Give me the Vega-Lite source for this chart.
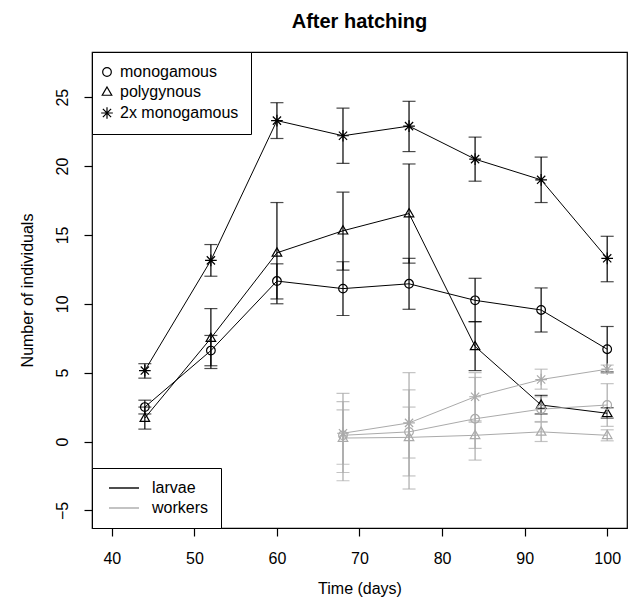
{
  "$schema": "https://vega.github.io/schema/vega-lite/v6.json",
  "width": 535,
  "height": 476,
  "autosize": {"type": "none"},
  "padding": {"left": 92, "top": 52, "right": 8, "bottom": 73},
  "background": "white",
  "title": {"text": "After hatching", "font": "Liberation Sans", "fontSize": 20, "fontWeight": "bold", "color": "black", "anchor": "middle", "baseline": "alphabetic", "offset": 4},
  "config": {
    "view": {"stroke": "black", "strokeWidth": 1.2},
    "axis": {"domain": false, "grid": false, "ticks": true, "tickColor": "black", "tickSize": 8, "tickWidth": 1.2, "labelFont": "Liberation Sans", "labelFontSize": 16, "labelColor": "black", "titleFont": "Liberation Sans", "titleFontSize": 16, "titleFontWeight": "normal", "titleColor": "black"},
    "legend": {"labelFont": "Liberation Sans", "labelFontSize": 16, "labelColor": "black", "symbolOpacity": 1}
  },
  "data": {"values": [
    {"t": 44, "stage": "larvae", "type": "monogamous", "m": 2.5, "lo": 2.0, "hi": 3.0},
    {"t": 52, "stage": "larvae", "type": "monogamous", "m": 6.6, "lo": 5.5, "hi": 7.7},
    {"t": 60, "stage": "larvae", "type": "monogamous", "m": 11.65, "lo": 10.35, "hi": 12.9},
    {"t": 68, "stage": "larvae", "type": "monogamous", "m": 11.1, "lo": 9.15, "hi": 13.05},
    {"t": 76, "stage": "larvae", "type": "monogamous", "m": 11.45, "lo": 9.6, "hi": 13.3},
    {"t": 84, "stage": "larvae", "type": "monogamous", "m": 10.25, "lo": 8.7, "hi": 11.85},
    {"t": 92, "stage": "larvae", "type": "monogamous", "m": 9.55, "lo": 7.95, "hi": 11.15},
    {"t": 100, "stage": "larvae", "type": "monogamous", "m": 6.7, "lo": 5.05, "hi": 8.35},
    {"t": 44, "stage": "larvae", "type": "polygynous", "m": 1.7, "lo": 0.9, "hi": 2.5},
    {"t": 52, "stage": "larvae", "type": "polygynous", "m": 7.5, "lo": 5.3, "hi": 9.65},
    {"t": 60, "stage": "larvae", "type": "polygynous", "m": 13.7, "lo": 10.0, "hi": 17.35},
    {"t": 68, "stage": "larvae", "type": "polygynous", "m": 15.3, "lo": 12.45, "hi": 18.1},
    {"t": 76, "stage": "larvae", "type": "polygynous", "m": 16.55, "lo": 12.95, "hi": 20.15},
    {"t": 84, "stage": "larvae", "type": "polygynous", "m": 6.9, "lo": 5.15, "hi": 8.7},
    {"t": 92, "stage": "larvae", "type": "polygynous", "m": 2.65, "lo": 2.0, "hi": 3.35},
    {"t": 100, "stage": "larvae", "type": "polygynous", "m": 2.05, "lo": 1.7, "hi": 2.45},
    {"t": 44, "stage": "larvae", "type": "2x monogamous", "m": 5.15, "lo": 4.6, "hi": 5.65},
    {"t": 52, "stage": "larvae", "type": "2x monogamous", "m": 13.15, "lo": 12.0, "hi": 14.3},
    {"t": 60, "stage": "larvae", "type": "2x monogamous", "m": 23.3, "lo": 22.0, "hi": 24.6},
    {"t": 68, "stage": "larvae", "type": "2x monogamous", "m": 22.2, "lo": 20.2, "hi": 24.2},
    {"t": 76, "stage": "larvae", "type": "2x monogamous", "m": 22.9, "lo": 21.05, "hi": 24.7},
    {"t": 84, "stage": "larvae", "type": "2x monogamous", "m": 20.5, "lo": 18.9, "hi": 22.1},
    {"t": 92, "stage": "larvae", "type": "2x monogamous", "m": 19.0, "lo": 17.35, "hi": 20.65},
    {"t": 100, "stage": "larvae", "type": "2x monogamous", "m": 13.3, "lo": 11.6, "hi": 14.9},
    {"t": 68, "stage": "workers", "type": "monogamous", "m": 0.45, "lo": -2.25, "hi": 2.9},
    {"t": 76, "stage": "workers", "type": "monogamous", "m": 0.7, "lo": -1.2, "hi": 2.5},
    {"t": 84, "stage": "workers", "type": "monogamous", "m": 1.65, "lo": -1.35, "hi": 4.65},
    {"t": 92, "stage": "workers", "type": "monogamous", "m": 2.35, "lo": 1.45, "hi": 3.25},
    {"t": 100, "stage": "workers", "type": "monogamous", "m": 2.65, "lo": 1.1, "hi": 4.2},
    {"t": 68, "stage": "workers", "type": "polygynous", "m": 0.25, "lo": -1.65, "hi": 2.3},
    {"t": 76, "stage": "workers", "type": "polygynous", "m": 0.3, "lo": -3.45, "hi": 3.75},
    {"t": 84, "stage": "workers", "type": "polygynous", "m": 0.45, "lo": -0.5, "hi": 1.4},
    {"t": 92, "stage": "workers", "type": "polygynous", "m": 0.7, "lo": 0.0, "hi": 1.4},
    {"t": 100, "stage": "workers", "type": "polygynous", "m": 0.45, "lo": 0.05, "hi": 0.85},
    {"t": 68, "stage": "workers", "type": "2x monogamous", "m": 0.6, "lo": -2.85, "hi": 3.5},
    {"t": 76, "stage": "workers", "type": "2x monogamous", "m": 1.35, "lo": -2.5, "hi": 5.0},
    {"t": 84, "stage": "workers", "type": "2x monogamous", "m": 3.25, "lo": 1.5, "hi": 5.0},
    {"t": 92, "stage": "workers", "type": "2x monogamous", "m": 4.5, "lo": 3.8, "hi": 5.25},
    {"t": 100, "stage": "workers", "type": "2x monogamous", "m": 5.25, "lo": 4.95, "hi": 5.55}
  ]},
  "encoding": {
    "x": {"field": "t", "type": "quantitative", "scale": {"domain": [37.6, 102.4], "nice": false, "zero": false},
      "axis": {"values": [40, 50, 60, 70, 80, 90, 100], "title": "Time (days)", "labelPadding": 14, "titlePadding": 14}},
    "color": {"field": "stage", "type": "nominal", "scale": {"domain": ["larvae", "workers"], "range": ["black", "#aaaaaa"]},
      "legend": {"title": null, "orient": "bottom-left", "offset": 0, "padding": 12, "strokeColor": "black", "fillColor": "white", "cornerRadius": 0, "symbolType": "M-0.6,0H5.4", "symbolSize": 100, "symbolStrokeWidth": 1.4, "symbolOpacity": 1, "labelOffset": 32, "rowPadding": 4}}
  },
  "layer": [
    {
      "mark": {"type": "rule", "strokeWidth": 1.2},
      "encoding": {
        "y": {"field": "lo", "type": "quantitative", "scale": {"domain": [-6.28, 28.28], "nice": false, "zero": false},
          "axis": {"values": [-5, 0, 5, 10, 15, 20, 25], "title": "Number of individuals", "labelAngle": -90, "labelAlign": "center", "labelBaseline": "bottom", "labelPadding": 14, "titlePadding": 19}},
        "y2": {"field": "hi"}
      }
    },
    {
      "mark": {"type": "tick", "orient": "horizontal", "size": 13, "thickness": 1.2},
      "encoding": {"y": {"field": "lo", "type": "quantitative"}}
    },
    {
      "mark": {"type": "tick", "orient": "horizontal", "size": 13, "thickness": 1.2},
      "encoding": {"y": {"field": "hi", "type": "quantitative"}}
    },
    {
      "mark": {"type": "line", "strokeWidth": 1},
      "encoding": {"y": {"field": "m", "type": "quantitative"}, "detail": {"field": "type"}, "order": {"field": "t"}}
    },
    {
      "mark": {"type": "point", "filled": false, "strokeWidth": 1.2, "opacity": 1, "size": 75},
      "encoding": {
        "y": {"field": "m", "type": "quantitative"},
        "shape": {"field": "type", "type": "nominal",
          "scale": {"domain": ["monogamous", "polygynous", "2x monogamous"], "range": ["circle", "M0,-1.15L1.1,0.75L-1.1,0.75Z", "M-1.35,0H1.35M0,-1.35V1.35M-0.95,-0.95L0.95,0.95M-0.95,0.95L0.95,-0.95"]},
          "legend": {"title": null, "orient": "top-left", "offset": 0, "padding": 12, "strokeColor": "black", "fillColor": "white", "cornerRadius": 0, "symbolStrokeColor": "black", "symbolFillColor": "transparent", "symbolSize": 75, "symbolStrokeWidth": 1.2, "symbolOpacity": 1, "symbolOffset": -5, "labelOffset": 5, "rowPadding": 4}}
      }
    }
  ]
}
